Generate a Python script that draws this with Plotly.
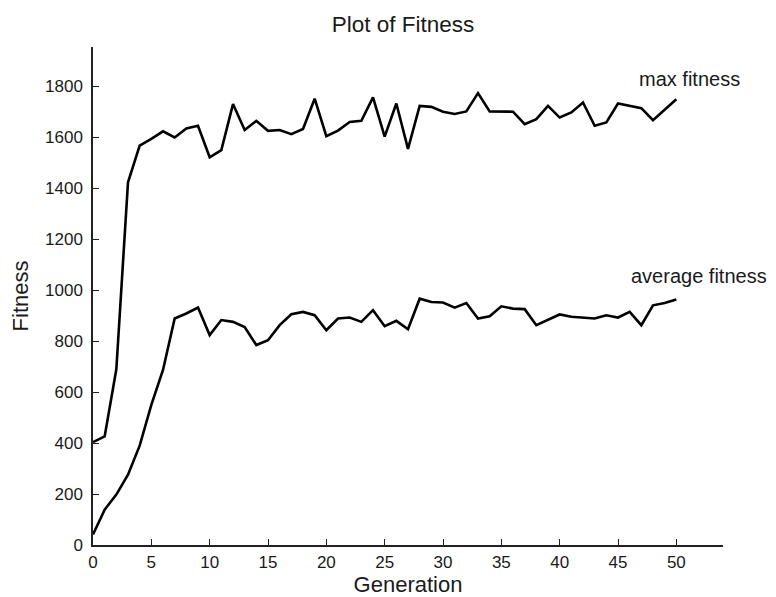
import plotly.graph_objects as go

generations = list(range(51))
max_fitness = [404, 426, 690, 1424, 1568, 1594, 1624, 1600, 1635, 1646,
               1522, 1550, 1731, 1629, 1665, 1626, 1629, 1613, 1633, 1752,
               1605, 1627, 1661, 1665, 1757, 1603, 1733, 1555, 1724, 1720,
               1701, 1692, 1702, 1774, 1702, 1702, 1701, 1652, 1672, 1724,
               1678, 1698, 1737, 1646, 1659, 1733, 1724, 1715, 1668, 1711,
               1750]
avg_fitness = [41, 139, 198, 276, 390, 550, 687, 889, 909, 932,
               824, 883, 876, 856, 785, 804, 863, 906, 915, 902,
               843, 889, 893, 876, 922, 859, 880, 847, 967, 954,
               952, 932, 950, 889, 898, 937, 928, 926, 863, 885,
               905, 896, 893, 889, 902, 893, 915, 863, 941, 950,
               964]

x_ticks = list(range(0, 51, 5))
y_ticks = list(range(0, 1801, 200))

FONT = "Liberation Sans, Arial, sans-serif"
TXT = "#1a1a1a"

fig = go.Figure()
fig.add_trace(go.Scatter(x=generations, y=max_fitness, mode="lines",
                         line=dict(color="black", width=2.6), name="max fitness",
                         showlegend=False))
fig.add_trace(go.Scatter(x=generations, y=avg_fitness, mode="lines",
                         line=dict(color="black", width=2.6), name="average fitness",
                         showlegend=False))

fig.add_annotation(x=46.66, y=1830, text="max fitness", showarrow=False,
                   xanchor="left", yanchor="middle",
                   font=dict(family=FONT, size=20, color=TXT))
fig.add_annotation(x=45.96, y=1055, text="average fitness", showarrow=False,
                   xanchor="left", yanchor="middle",
                   font=dict(family=FONT, size=20, color=TXT))

fig.update_layout(
    width=776, height=597,
    margin=dict(l=81, r=61, t=39, b=60),
    paper_bgcolor="white", plot_bgcolor="white",
    title=dict(text="Plot of Fitness", x=395 / 776, xref="container", xanchor="center",
               y=1 - 16 / 597, yanchor="middle",
               font=dict(family=FONT, size=22.5, color=TXT)),
    font=dict(family=FONT, size=17, color=TXT),
)
fig.update_xaxes(range=[0, 54], tickvals=x_ticks, ticks="inside", ticklen=6,
                 tickcolor="#222", showline=True, linecolor="#222", linewidth=1.5,
                 showgrid=False, zeroline=False, mirror=False,
                 ticklabelstandoff=1,
                 title=dict(text="Generation", standoff=3,
                            font=dict(family=FONT, size=22, color=TXT)),
                 tickfont=dict(family=FONT, size=17, color=TXT))
fig.update_yaxes(range=[0, 1955], tickvals=y_ticks, ticks="inside", ticklen=6,
                 tickcolor="#222", showline=True, linecolor="#222", linewidth=1.5,
                 showgrid=False, zeroline=False, mirror=False,
                 ticklabelstandoff=5,
                 title=dict(text="Fitness", standoff=10,
                            font=dict(family=FONT, size=22, color=TXT)),
                 tickfont=dict(family=FONT, size=17, color=TXT))

fig.write_html("out.html")
